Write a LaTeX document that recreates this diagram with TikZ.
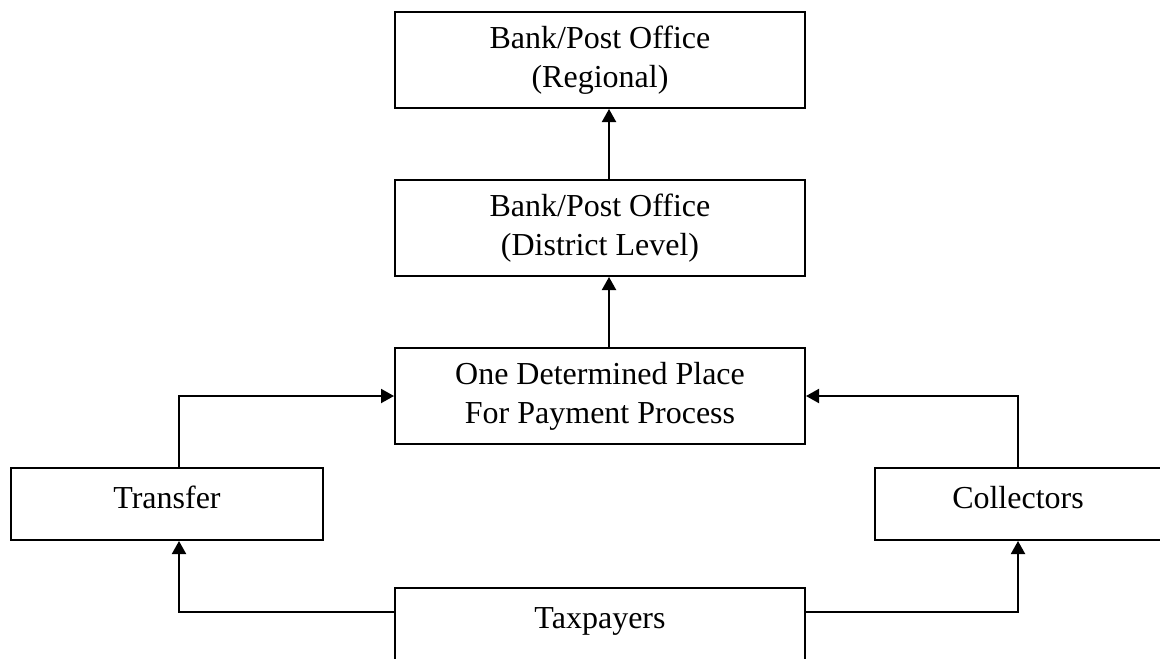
\documentclass[tikz,border=0pt]{standalone}
\usepackage{fontspec}
\setmainfont{Liberation Serif}
\usetikzlibrary{arrows.meta}

\begin{document}
\begin{tikzpicture}[x=0.5pt, y=-0.5pt,
	every node/.style={font=\fontsize{16}{19.5}\selectfont},
	box/.style={draw, line width=1pt, minimum width=205pt, minimum height=48pt, align=center, execute at begin node={\rule{0pt}{15pt}}},
	smallbox/.style={draw, line width=1pt, minimum height=36pt, text height=10.6pt, text depth=6pt},
	link/.style={line width=1pt, -{Triangle[length=6.5pt, width=7pt]}}]
		\useasboundingbox (0,0) rectangle (1160,658);
		\node[box] (regional) at (600,60) {Bank/Post Office\\(Regional)};
		\node[box] (district) at (600,228) {Bank/Post Office\\(District Level)};
		\node[box] (place) at (600,396) {One Determined Place\\For Payment Process};
		\node[smallbox, minimum width=156pt] (transfer) at (167,504) {Transfer};
		\node[smallbox, minimum width=143pt] (collectors) at (1018,504) {Collectors};
		\node[smallbox, minimum width=205pt] (taxpayers) at (600,624) {Taxpayers};

		\draw[link] ([xshift=4.5pt]district.north) -- ([xshift=4.5pt]regional.south);
		\draw[link] ([xshift=4.5pt]place.north) -- ([xshift=4.5pt]district.south);
		\draw[link] ([xshift=6pt]transfer.north) |- (place.west);
		\draw[link] (collectors.north) |- (place.east);
		\draw[link] ([yshift=6pt]taxpayers.west) -| ([xshift=6pt]transfer.south);
		\draw[link] ([yshift=6pt]taxpayers.east) -| (collectors.south);
	\end{tikzpicture}
\end{document}
